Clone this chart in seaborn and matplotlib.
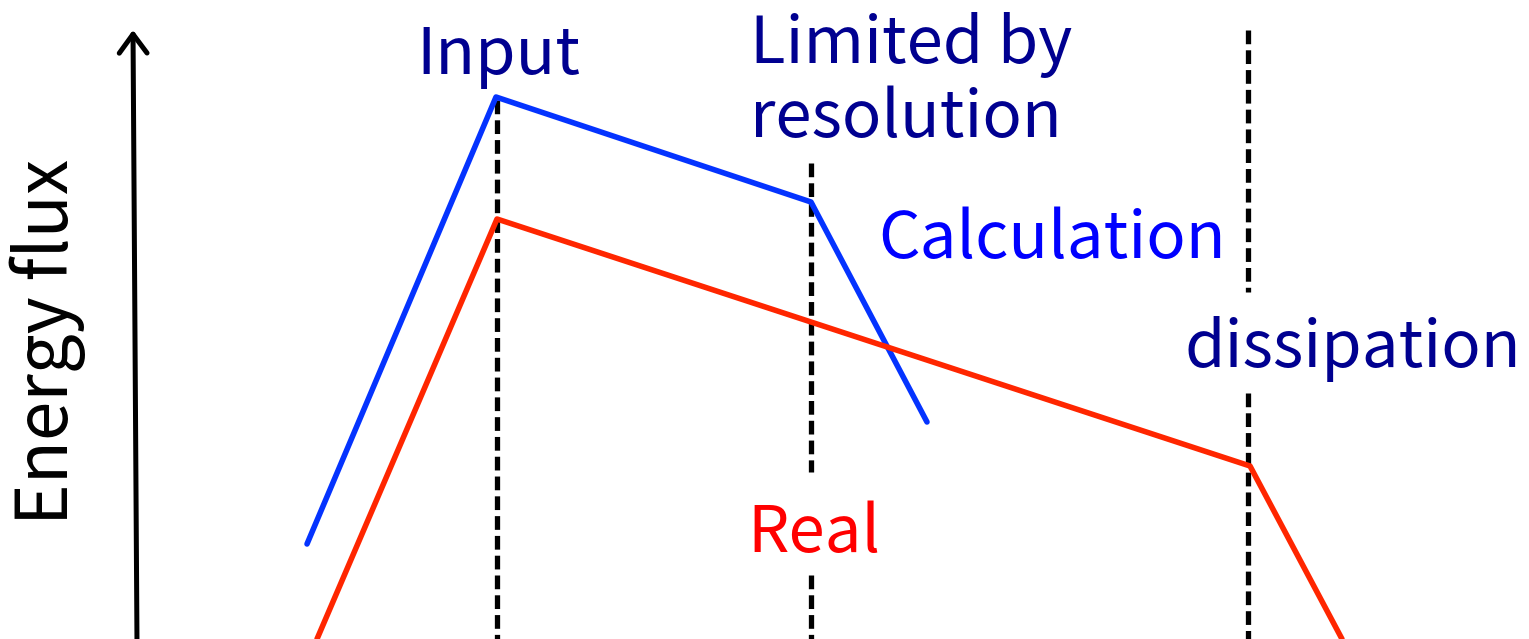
import matplotlib
matplotlib.use("Agg")
import matplotlib.pyplot as plt
import seaborn as sns
import pandas as pd

# ---- data (schematic, in picture units: x to the right, y downward) ----
calc_x = [307, 496, 811, 927]
calc_y = [544, 97, 202, 422]
real_x = [317, 497, 1250, 1342]
real_y = [639, 219, 466, 639]

# vertical dashed markers: x and visible segments (top, bottom)
mark_x = [497, 811, 811, 1248, 1248]
mark_top = [100, 163, 575, 30, 393]
mark_bot = [639, 472, 639, 292, 639]

label_text = ["Input", "Limited by", "resolution", "Calculation", "dissipation", "Real"]
label_x = [416, 750, 750, 878, 1185, 747]
label_y = [74, 63, 137, 258, 367, 552]
label_col = ["#000090", "#000090", "#000090", "#0000FF", "#000090", "#FF0000"]

axis_label = "Energy flux"

# ---- figure ----
sns.set_theme(style="white")
plt.rcParams["font.family"] = ["Noto Sans CJK JP", "DejaVu Sans"]

W, H = 1529, 639
fig = plt.figure(figsize=(W / 100, H / 100), dpi=100)
ax = fig.add_axes([0, 0, 1, 1])

# dashed markers
for x, t, b in zip(mark_x, mark_top, mark_bot):
    seg = pd.DataFrame({"x": [x, x], "y": [t, b]})
    sns.lineplot(data=seg, x="x", y="y", ax=ax, color="black", lw=3.8,
                 sort=False, estimator=None)
for ln in ax.get_lines():
    ln.set_dashes((2.6, 1.15))
    ln.set_dash_capstyle("butt")

calc = pd.DataFrame({"x": calc_x, "y": calc_y})
real = pd.DataFrame({"x": real_x, "y": real_y})
sns.lineplot(data=calc, x="x", y="y", ax=ax, color="#0433FF", lw=4.0,
             sort=False, estimator=None)
sns.lineplot(data=real, x="x", y="y", ax=ax, color="#FF2600", lw=4.0,
             sort=False, estimator=None)
ax.set_xlim(0, W)
ax.set_ylim(H, 0)
ax.axis("off")

# axis arrow
ax.annotate("", xy=(133, 30), xytext=(137, 645),
            arrowprops=dict(arrowstyle="->,head_length=0.68,head_width=0.5",
                            mutation_scale=20, lw=3.6, color="black",
                            shrinkA=0, shrinkB=0))

for t, x, y, c in zip(label_text, label_x, label_y, label_col):
    ax.text(x, y, t, color=c, fontsize=47, ha="left", va="baseline")

ax.text(48, 342, axis_label, color="black", fontsize=51, rotation=90,
        ha="center", va="center")

fig.savefig("out.png", dpi=100)
